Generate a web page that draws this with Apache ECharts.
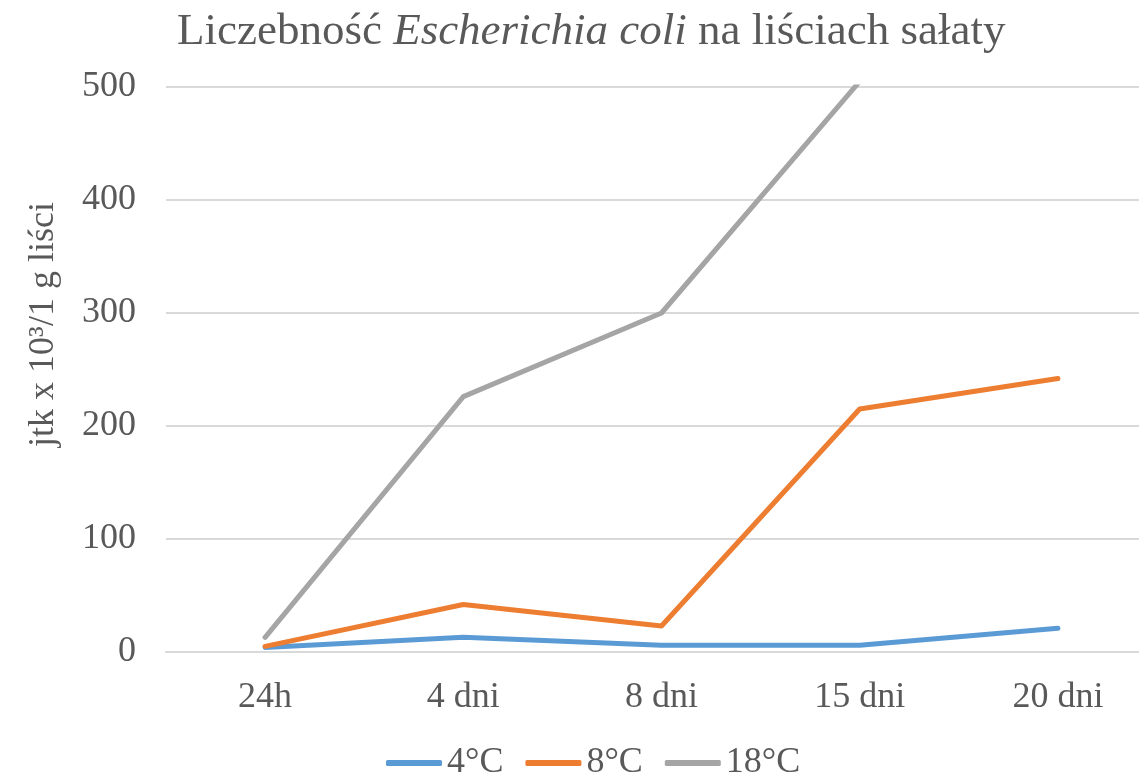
<!DOCTYPE html>
<html lang="pl">
<head>
    <meta charset="UTF-8">
    <title>Liczebność Escherichia coli</title>
    <style>
        html,body{margin:0;padding:0;background:#fff;}
        #chart{width:1139px;height:778px;}
    </style>
</head>
<body>
    <div id="chart"></div>
    <script src="https://cdn.jsdelivr.net/npm/echarts@6/dist/echarts.min.js"></script>
    <script>
        // dane
        let categories=['24h','4 dni','8 dni','15 dni','20 dni'];
        let seriesNames=['4°C','8°C','18°C'];
        let t4=[4,13,6,6,21];
        let t8=[5,42,23,215,242];
        let t18=[13,226,300,505,620];   // 20 dni poza skalą (obcięte przy 500)
        let yTicks=[0,100,200,300,400,500];

        let colors=['#5B9BD5','#ED7D31','#A5A5A5'];
        let textColor='#595959';
        let font='"Liberation Serif","Times New Roman",serif';

        let chart=echarts.init(document.getElementById('chart'),null,{renderer:'canvas'});

        function makeSeries(name,data,color){
            return {
                name,
                type:'line',
                data,
                symbol:'none',
                clip:true,
                lineStyle:{width:5,color,cap:'round',join:'round'},
                itemStyle:{color},
            };
        }

        chart.setOption({
            animation:false,
            backgroundColor:'#fff',
            title:{
                text:'Liczebność {i|Escherichia coli} na liściach sałaty',
                left:172,
                top:5,
                textStyle:{
                    fontFamily:font,
                    fontSize:45,
                    fontWeight:'normal',
                    color:textColor,
                    rich:{
                        i:{fontFamily:font,fontSize:45,fontStyle:'italic',color:textColor},
                    },
                },
            },
            legend:{
                data:seriesNames,
                left:381,
                bottom:-8,
                icon:'roundRect',
                itemWidth:56,
                itemHeight:6,
                itemGap:22,
                textStyle:{fontFamily:font,fontSize:36,color:textColor},
            },
            grid:{left:166,right:-18,top:87,bottom:126,containLabel:false,outerBoundsMode:'none'},
            xAxis:{
                type:'category',
                data:categories,
                boundaryGap:true,
                axisLine:{lineStyle:{color:'#D9D9D9',width:2}},
                axisTick:{show:false},
                axisLabel:{fontFamily:font,fontSize:36,color:textColor,margin:28},
            },
            yAxis:{
                type:'value',
                min:yTicks[0],
                max:yTicks[yTicks.length-1],
                interval:100,
                name:'jtk x 10³/1 g liści',
                nameLocation:'middle',
                nameGap:104,
                nameTextStyle:{fontFamily:font,fontSize:36,color:textColor,padding:[0,0,0,90]},
                axisLine:{show:false},
                axisTick:{show:false},
                splitLine:{lineStyle:{color:'#D9D9D9',width:2}},
                axisLabel:{fontFamily:font,fontSize:36,color:textColor,margin:30},
            },
            series:[
                makeSeries(seriesNames[0],t4,colors[0]),
                makeSeries(seriesNames[1],t8,colors[1]),
                makeSeries(seriesNames[2],t18,colors[2]),
            ],
        });
    </script>
</body>
</html>
